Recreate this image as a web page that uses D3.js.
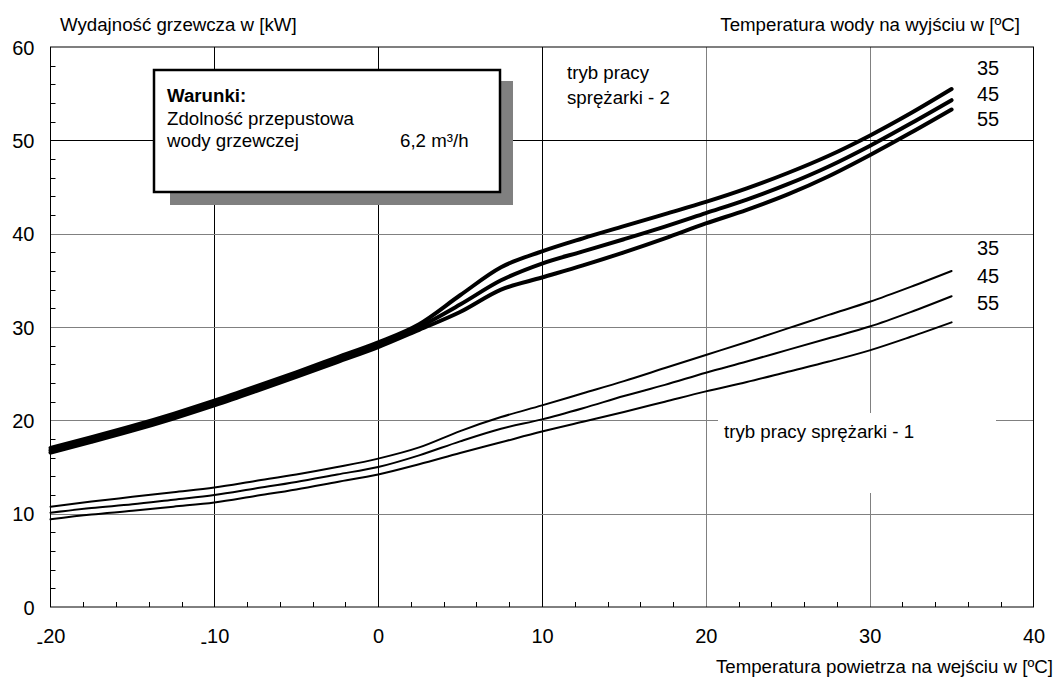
<!DOCTYPE html>
<html>
<head>
<meta charset="utf-8">
<script src="https://cdn.jsdelivr.net/npm/d3@7"></script>
<style>
  body { margin: 0; background: #fff; }
  svg text { font-family: "Liberation Sans", Arial, sans-serif; fill: #000; }
</style>
</head>
<body>
<svg id="chart"></svg>
<script>
// outdoor air temperature [C]
let airTemp = [-20, -17.5, -15, -12.5, -10, -7.5, -5, -2.5, 0, 2.5, 5, 7.5, 10, 12.5, 15, 17.5, 20, 22.5, 25, 27.5, 30, 32.5, 35]

// compressor mode 2 (thick lines), heating output [kW]
let mode2_35 = [17.05, 18.2, 19.4, 20.7, 22.1, 23.6, 25.15, 26.75, 28.35, 30.3, 33.4, 36.4, 38.1, 39.5, 40.8, 42.1, 43.4, 44.85, 46.5, 48.35, 50.5, 52.9, 55.5]
let mode2_45 = [16.8, 17.95, 19.15, 20.45, 21.85, 23.35, 24.9, 26.5, 28.1, 30.0, 32.4, 35.0, 36.8, 38.1, 39.4, 40.75, 42.2, 43.65, 45.3, 47.2, 49.4, 51.8, 54.3]
let mode2_55 = [16.55, 17.7, 18.9, 20.2, 21.6, 23.1, 24.65, 26.25, 27.85, 29.7, 31.6, 34.0, 35.3, 36.6, 38.0, 39.5, 41.1, 42.55, 44.2, 46.15, 48.4, 50.8, 53.3]

// compressor mode 1 (thin lines)
let mode1_35 = [10.75, 11.3, 11.8, 12.3, 12.8, 13.5, 14.2, 15.0, 15.9, 17.1, 18.85, 20.35, 21.6, 22.9, 24.2, 25.6, 27.0, 28.4, 29.85, 31.3, 32.7, 34.3, 36.0]
let mode1_45 = [10.1, 10.6, 11.0, 11.5, 12.0, 12.7, 13.4, 14.2, 15.0, 16.25, 17.75, 19.1, 20.1, 21.3, 22.6, 23.8, 25.1, 26.3, 27.55, 28.8, 30.05, 31.6, 33.3]
let mode1_55 = [9.4, 9.9, 10.3, 10.75, 11.2, 11.9, 12.6, 13.4, 14.2, 15.3, 16.5, 17.65, 18.8, 19.85, 20.9, 22.0, 23.1, 24.1, 25.2, 26.3, 27.5, 28.95, 30.5]

let waterTemps = ['35', '45', '55']

let xTicks = [-20, -10, 0, 10, 20, 30, 40]
let yTicks = [0, 10, 20, 30, 40, 50, 60]

let width = 1058
let height = 678

let svg = d3.select('#chart')
svg.attr('width', width).attr('height', height)

let xScale = d3.scaleLinear().domain([-20, 40]).range([50.5, 1033.5])
let yScale = d3.scaleLinear().domain([0, 60]).range([607, 47])

let fontSize = 18.7

// --- grid ---
let grid = svg.append('g')
let darkV = [-10, 0, 10]
xTicks.filter(d => d > -20 && d < 40).forEach(d => {
    grid.append('line')
        .attr('x1', Math.round(xScale(d)) + 0.5).attr('x2', Math.round(xScale(d)) + 0.5)
        .attr('y1', yScale(60)).attr('y2', yScale(0))
        .attr('stroke', darkV.includes(d) ? '#000' : '#808080')
        .attr('stroke-width', 1)
})
yTicks.filter(d => d > 0 && d < 60).forEach(d => {
    grid.append('line')
        .attr('x1', xScale(-20)).attr('x2', xScale(40))
        .attr('y1', Math.round(yScale(d)) + 0.5).attr('y2', Math.round(yScale(d)) + 0.5)
        .attr('stroke', d == 50 ? '#000' : '#808080')
        .attr('stroke-width', 1)
})

// minor ticks every 2 units, drawn inward
d3.range(-18, 40, 2).filter(d => d % 10 != 0).forEach(d => {
    grid.append('line')
        .attr('x1', Math.round(xScale(d)) + 0.5).attr('x2', Math.round(xScale(d)) + 0.5)
        .attr('y1', yScale(0)).attr('y2', yScale(0) - 5)
        .attr('stroke', '#000')
})
d3.range(2, 60, 2).filter(d => d % 10 != 0).forEach(d => {
    grid.append('line')
        .attr('x1', xScale(-20)).attr('x2', xScale(-20) + 5)
        .attr('y1', Math.round(yScale(d)) + 0.5).attr('y2', Math.round(yScale(d)) + 0.5)
        .attr('stroke', '#000')
})

// white gap behind the mode 1 label
svg.append('rect')
   .attr('x', 718).attr('y', 413)
   .attr('width', 278).attr('height', 80)
   .attr('fill', '#fff')

// --- curves ---
let line = d3.line()
             .x((d, i) => xScale(airTemp[i]))
             .y(d => yScale(d))
             .curve(d3.curveMonotoneX)

let curves = svg.append('g').attr('fill', 'none').attr('stroke', '#000').attr('stroke-linecap', 'round')
;[mode1_35, mode1_45, mode1_55].forEach(s => {
    curves.append('path').attr('d', line(s)).attr('stroke-width', 2)
})
;[mode2_35, mode2_45, mode2_55].forEach(s => {
    curves.append('path').attr('d', line(s)).attr('stroke-width', 4)
})

// frame
svg.append('rect')
   .attr('x', xScale(-20)).attr('y', yScale(60))
   .attr('width', xScale(40) - xScale(-20)).attr('height', yScale(0) - yScale(60))
   .attr('fill', 'none').attr('stroke', '#000').attr('stroke-width', 1)

// --- axes labels ---
let yAxis = d3.axisLeft(yScale).tickValues(yTicks).tickSize(0).tickPadding(16)
let yG = svg.append('g').attr('transform', 'translate(' + xScale(-20) + ',0)').call(yAxis)
yG.select('.domain').remove()
yG.selectAll('text').attr('font-size', 20).attr('font-family', null).attr('dy', '0.36em')

let xAxis = d3.axisBottom(xScale).tickValues(xTicks).tickSize(0).tickPadding(22)
let xG = svg.append('g').attr('transform', 'translate(0,' + yScale(0) + ')').call(xAxis)
xG.select('.domain').remove()
xG.selectAll('text').attr('font-size', 20).attr('font-family', null)
// negative labels: the minus sits low, on the baseline
xG.selectAll('text').filter(d => d < 0).each(function(d) {
    let t = d3.select(this).attr('dy', null).text('')
    t.append('tspan').attr('dy', '0.99em').text('-')
    t.append('tspan').attr('dy', '-0.28em').text(Math.abs(d))
})

// titles
svg.append('text').attr('x', 60).attr('y', 31).attr('font-size', fontSize)
   .text('Wydajność grzewcza w [kW]')
svg.append('text').attr('x', 1020).attr('y', 31).attr('font-size', fontSize).attr('text-anchor', 'end')
   .text('Temperatura wody na wyjściu w [ºC]')
svg.append('text').attr('x', 1053).attr('y', 673).attr('font-size', fontSize).attr('text-anchor', 'end')
   .text('Temperatura powietrza na wejściu w [ºC]')

// mode labels
svg.append('text').attr('x', 567).attr('y', 79).attr('font-size', fontSize).text('tryb pracy')
svg.append('text').attr('x', 567).attr('y', 104).attr('font-size', fontSize).text('sprężarki - 2')
svg.append('text').attr('x', 724).attr('y', 438).attr('font-size', fontSize).text('tryb pracy sprężarki - 1')

// water temperature labels
let labelX = 977
waterTemps.forEach((t, i) => {
    svg.append('text').attr('x', labelX).attr('y', 75 + i * 25.5).attr('font-size', 20).text(t)
    svg.append('text').attr('x', labelX).attr('y', 255 + i * 27.5).attr('font-size', 20).text(t)
})

// conditions box with shadow
svg.append('rect').attr('x', 170).attr('y', 81).attr('width', 343).attr('height', 124).attr('fill', '#808080')
svg.append('rect').attr('x', 154).attr('y', 70).attr('width', 346).attr('height', 122)
   .attr('fill', '#fff').attr('stroke', '#000').attr('stroke-width', 2.5)
svg.append('text').attr('x', 167).attr('y', 102).attr('font-size', fontSize).attr('font-weight', 'bold').text('Warunki:')
svg.append('text').attr('x', 167).attr('y', 125).attr('font-size', fontSize).text('Zdolność przepustowa')
svg.append('text').attr('x', 167).attr('y', 147).attr('font-size', fontSize).text('wody grzewczej')
svg.append('text').attr('x', 400).attr('y', 147).attr('font-size', fontSize).text('6,2 m³/h')
</script>
</body>
</html>
